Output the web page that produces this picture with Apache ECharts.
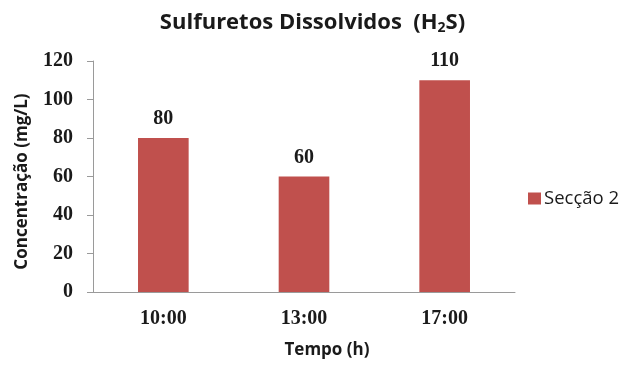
<!DOCTYPE html>
<html>
<head>
<meta charset="utf-8">
<script src="https://cdn.jsdelivr.net/npm/echarts@6/dist/echarts.min.js"></script>
<style>
  html, body { margin: 0; padding: 0; background: #fff; }
  #chart { width: 625px; height: 368px; }
</style>
</head>
<body>
<div id="chart"></div>
<script>
// Hydrogen sulfide concentration sampled at three times of day
const categories = ['10:00', '13:00', '17:00'];
const seriesName = 'Secção 2';
const values = [80, 60, 110];
const yTicks = [0, 20, 40, 60, 80, 100, 120];

const sans = '"Open Sans", Lato, sans-serif';
const serif = '"Liberation Serif", "DejaVu Serif", serif';
const ink = '#1a1a1a';
const chart = echarts.init(document.getElementById('chart'), null, { renderer: 'canvas' });

chart.setOption({
  animation: false,
  backgroundColor: '#ffffff',
  title: {
    text: 'Sulfuretos Dissolvidos  (H{sub|2}S)',
    left: 'center',
    top: 5,
    textStyle: {
      fontFamily: sans, fontSize: 22, fontWeight: 'bold', color: ink,
      rich: { sub: { fontFamily: sans, fontSize: 14, fontWeight: 'bold', color: ink, padding: [11, 0, 0, 0] } }
    }
  },
  legend: {
    data: [seriesName],
    left: 523, top: 184,
    orient: 'vertical',
    icon: 'rect', itemWidth: 13, itemHeight: 12, itemGap: 6,
    textStyle: { fontFamily: sans, fontSize: 18.5, color: ink, padding: [0, 0, 0, -2] }
  },
  grid: { left: 93, right: 110, top: 61, bottom: 76, containLabel: false },
  xAxis: {
    type: 'category',
    data: categories,
    name: 'Tempo (h)',
    nameLocation: 'middle',
    nameGap: 50,
    nameTextStyle: { fontFamily: sans, fontSize: 17, fontWeight: 'bold', color: ink, padding: [0, 0, 0, 46] },
    axisLine: { lineStyle: { color: '#9a9a9a', width: 1 } },
    axisTick: { show: false },
    axisLabel: { fontFamily: serif, fontSize: 20, fontWeight: 'bold', color: ink, margin: 17 }
  },
  yAxis: {
    type: 'value',
    min: yTicks[0], max: yTicks[yTicks.length - 1], interval: yTicks[1] - yTicks[0],
    name: 'Concentração (mg/L)',
    nameLocation: 'middle',
    nameGap: 62,
    nameRotate: 90,
    nameTextStyle: { fontFamily: sans, fontSize: 17, fontWeight: 'bold', color: ink, padding: [0, 10, 0, 0] },
    axisLine: { show: true, lineStyle: { color: '#9a9a9a', width: 1 } },
    axisTick: { show: true, length: 6, lineStyle: { color: '#9a9a9a' } },
    splitLine: { show: false },
    axisLabel: { fontFamily: serif, fontSize: 20, fontWeight: 'bold', color: ink, margin: 20 }
  },
  series: [{
    name: seriesName,
    type: 'bar',
    data: values,
    barWidth: '36%',
    itemStyle: { color: '#C0504D' },
    label: {
      show: true, position: 'top', distance: 9,
      fontFamily: serif, fontSize: 20, fontWeight: 'bold', color: ink
    }
  }]
});
</script>
</body>
</html>
